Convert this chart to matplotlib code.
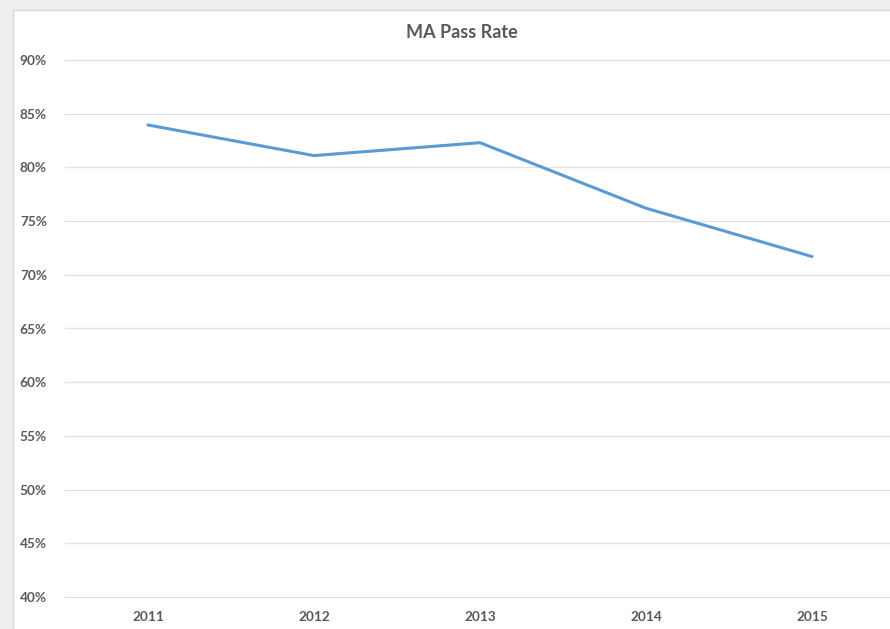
import matplotlib
matplotlib.use("Agg")
import matplotlib.pyplot as plt
from matplotlib.patches import Rectangle
from matplotlib.ticker import FuncFormatter

years = ["2011", "2012", "2013", "2014", "2015"]
pass_rate = [83.95, 81.1, 82.3, 76.2, 71.7]
y_ticks = [40, 45, 50, 55, 60, 65, 70, 75, 80, 85, 90]

W, H = 890, 629
fig = plt.figure(figsize=(W / 100, H / 100), dpi=100)
fig.patch.set_facecolor("#efefef")

# white chart area (cropped at right/bottom)
fig.patches.append(Rectangle((13 / W, -0.1), 1.2, (H - 10) / H + 0.1,
                             transform=fig.transFigure, facecolor="white",
                             edgecolor="#d4d4d4", linewidth=1.0, zorder=-5))

font = ["Lato", "DejaVu Sans"]
grey = "#595959"

left = 65 / W
right = 895 / W
bottom = (H - 597) / H
top = (H - 60) / H
ax = fig.add_axes([left, bottom, right - left, top - bottom])
ax.set_facecolor("none")
ax.set_zorder(2)

x = list(range(len(years)))
ax.plot(x, pass_rate, color="#5b9bd5", linewidth=2.2, solid_capstyle="round")

ax.set_xlim(-0.5, len(years) - 0.5)
ax.set_ylim(40, 90)
ax.set_yticks(y_ticks)
ax.yaxis.set_major_formatter(FuncFormatter(lambda v, p: f"{v:.0f}%"))
ax.set_xticks(x)
ax.set_xticklabels(years)

for s in ax.spines.values():
    s.set_visible(False)
ax.grid(axis="y", color="#e3e3e3", linewidth=1.0)
for gl in ax.get_ygridlines():
    gl.set_clip_on(False)
ax.set_axisbelow(True)
ax.tick_params(axis="both", length=0, colors=grey)
ax.tick_params(axis="y", pad=13)
ax.tick_params(axis="x", pad=10)
for lab in ax.get_xticklabels() + ax.get_yticklabels():
    lab.set_family(font)
    lab.set_fontsize(9.8)
    lab.set_fontweight("bold")
    lab.set_color(grey)

fig.text(462 / W, (H - 32) / H, "MA Pass Rate", ha="center", va="center",
         family=font, fontsize=13, fontweight="bold", color=grey, zorder=3)

fig.savefig("out.png", dpi=100, facecolor=fig.get_facecolor())
